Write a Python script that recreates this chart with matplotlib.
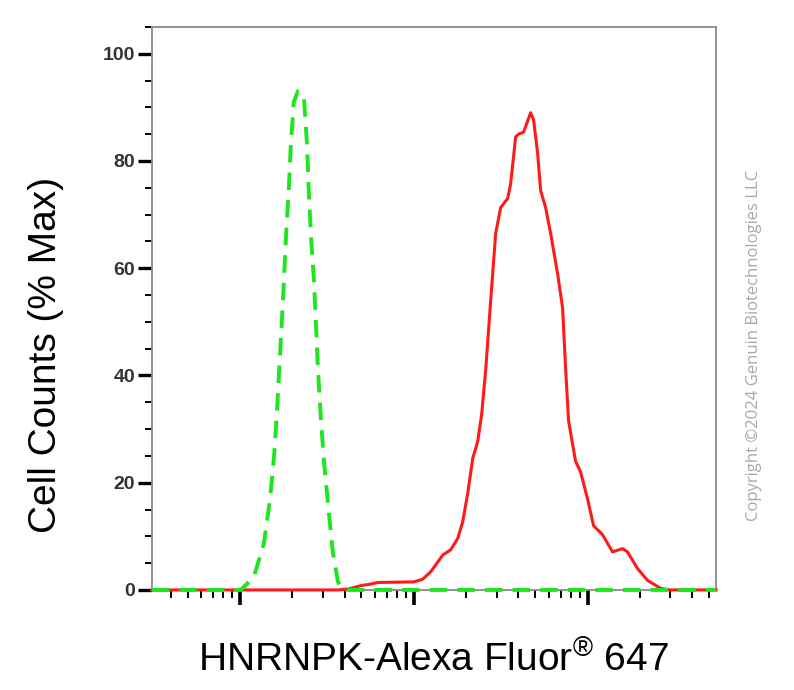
import numpy as np
import matplotlib
matplotlib.use('Agg')
import matplotlib.pyplot as plt
from matplotlib.ticker import LogLocator, NullFormatter, MultipleLocator

plt.rcParams['font.family'] = ['Liberation Sans', 'DejaVu Sans']
plt.rcParams['mathtext.fontset'] = 'custom'
plt.rcParams['mathtext.rm'] = 'Liberation Sans'

# isotype control (green, dashed) - fluorescence intensity vs % max
ctrl_x = [31, 101, 120, 137, 149, 157, 163, 168, 174, 179, 184, 191, 196, 204, 215,
          233, 243, 249, 256, 266, 274, 281, 292, 304, 321, 342, 366, 396, 55000]
ctrl_y = [0, 0, 2.4, 8.6, 17, 25, 33, 41, 50, 58, 66, 75, 83, 91, 93,
          92, 83, 74, 66, 58, 49, 41, 32, 24, 16, 7, 1.5, 0, 0]

# HNRNPK stained sample (red)
hnrnpk_x = [31, 366, 423, 496, 566, 621, 1000, 1126, 1252, 1468, 1632, 1790, 1912, 2043,
            2183, 2333, 2459, 2593, 2771, 2960, 3162, 3469, 3610, 3857, 4012, 4287, 4703,
            4894, 5159, 5370, 5738, 6130, 6723, 7184, 7474, 7779, 8531, 9116, 10000, 10826,
            12200, 13922, 15890, 16980, 19390, 22120, 26270, 29990, 55000]
hnrnpk_y = [0, 0, 0.2, 0.8, 1.1, 1.4, 1.5, 2, 3.4, 6.5, 7.5, 9.6, 12.7, 18,
            24.5, 27.7, 32.8, 41, 54, 66.5, 71.3, 73, 75.8, 84.5, 85, 85.4, 89,
            87.6, 81.5, 74.5, 71.3, 66.5, 59, 52.6, 41.4, 31.5, 24, 22, 17, 12,
            10.3, 7.1, 7.7, 7.1, 4, 1.8, 0.3, 0, 0]

fig = plt.figure(figsize=(7.94, 6.90), dpi=100)
ax = fig.add_axes([0.191, 0.145, 0.711, 0.816])

ax.plot(hnrnpk_x, hnrnpk_y, color='#ff1a1a', linewidth=2.2, clip_on=False, zorder=3)
ax.plot(ctrl_x, ctrl_y, color='#1ee61e', linewidth=2.8, dashes=(4.5, 2.6),
        clip_on=False, zorder=4)

ax.set_xscale('log')
ax.set_xlim(31, 55000)
ax.set_ylim(0, 105)

# log ticks on x, no labels
ax.xaxis.set_major_locator(LogLocator(base=10, numticks=10))
ax.xaxis.set_minor_locator(LogLocator(base=10, subs=np.arange(2, 10), numticks=20))
ax.xaxis.set_major_formatter(NullFormatter())
ax.xaxis.set_minor_formatter(NullFormatter())

ax.yaxis.set_major_locator(MultipleLocator(20))
ax.yaxis.set_minor_locator(MultipleLocator(5))

ax.tick_params(axis='x', which='major', direction='out', length=11, width=2.6, color='black')
ax.tick_params(axis='x', which='minor', direction='out', length=5.5, width=1.4, color='black')
ax.tick_params(axis='y', which='major', direction='out', length=10, width=2.4, color='black',
               labelsize=14, labelcolor='#333333', pad=2)
ax.tick_params(axis='y', which='minor', direction='out', length=5, width=1.4, color='black')
for lbl in ax.get_yticklabels():
    lbl.set_fontweight('bold')

for sp in ax.spines.values():
    sp.set_color('#8a8a8a')
    sp.set_linewidth(1.3)

ax.set_ylabel('Cell Counts (% Max)', fontsize=28)
ax.yaxis.set_label_coords(-0.155, 0.417)
ax.set_xlabel(r'HNRNPK-Alexa Fluor$^{\mathrm{®}}$ 647', fontsize=28, labelpad=22)

fig.text(0.950, 0.50, 'Copyright \u00a92024 Genuin Biotechnologies LLC', rotation=90,
         fontsize=12, color='#a8a8a8', family=['Open Sans', 'DejaVu Sans'],
         ha='center', va='center')

fig.savefig('out.png', dpi=100)
